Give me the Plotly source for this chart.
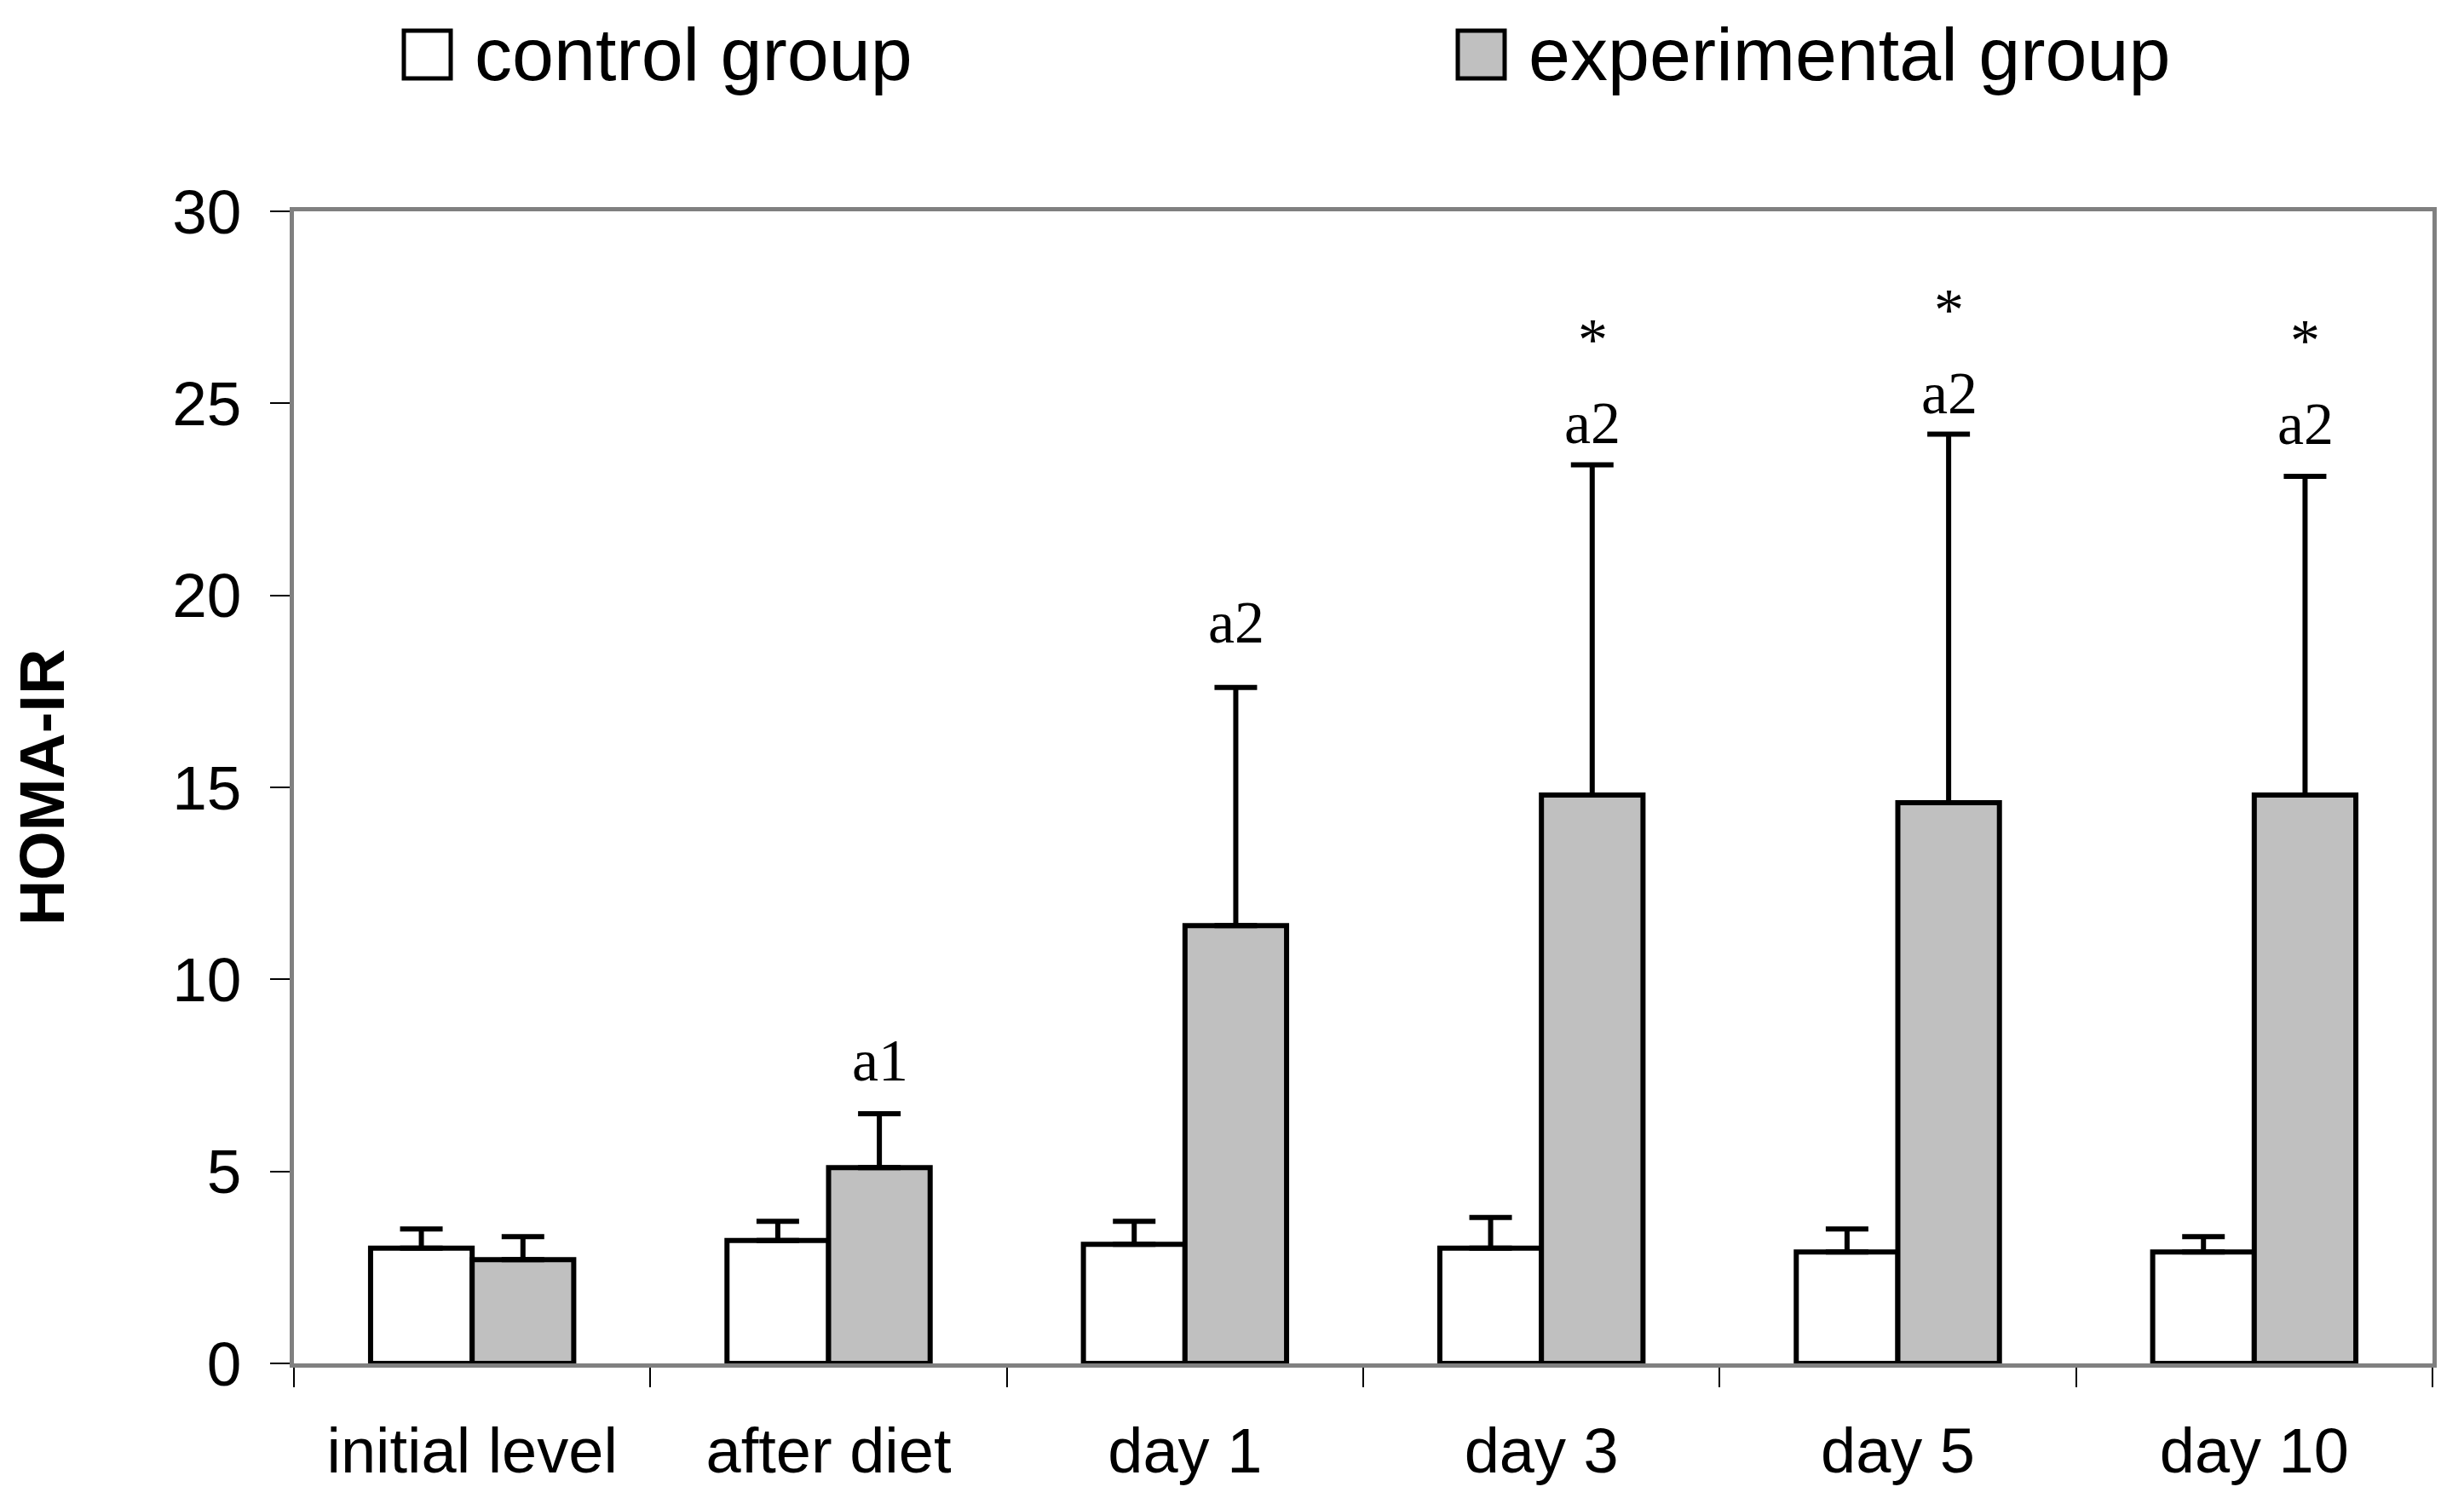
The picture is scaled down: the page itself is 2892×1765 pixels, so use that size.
import plotly.graph_objects as go

categories = ["initial level", "after diet", "day 1", "day 3", "day 5", "day 10"]
control_mean = [3.0, 3.2, 3.1, 3.0, 2.9, 2.9]
control_err = [0.5, 0.5, 0.6, 0.8, 0.6, 0.4]
exp_mean = [2.7, 5.1, 11.4, 14.8, 14.6, 14.8]
exp_err = [0.6, 1.4, 6.2, 8.6, 9.6, 8.3]
sig_labels = ["", "a1", "a2", "a2", "a2", "a2"]
star_labels = ["", "", "", "*", "*", "*"]
y_ticks = [0, 5, 10, 15, 20, 25, 30]

# styling: pixel offsets of the significance labels above the error bar caps
label_yshift = [0, 22, 36, 8, 7, 21]
star_gap = 98

# page has an 8px default body margin, so the figure is 8px smaller
OFF = 8
W, H = 2892 - OFF, 1765 - OFF
ML, MR, MT, MB = 345 - OFF, 37, 248 - OFF, 165
PW = W - ML - MR
PH = H - MT - MB

SANS = "Liberation Sans, Arial, sans-serif"
SERIF = "Liberation Serif, Times New Roman, serif"

fig = go.Figure()
fig.add_trace(go.Bar(
    x=categories, y=control_mean, name="control group",
    marker=dict(color="white", line=dict(color="black", width=6)),
    error_y=dict(type="data", symmetric=False, array=control_err,
                 arrayminus=[0] * len(control_err), color="black",
                 thickness=6, width=25),
))
fig.add_trace(go.Bar(
    x=categories, y=exp_mean, name="experimental group",
    marker=dict(color="#C0C0C0", line=dict(color="black", width=6)),
    error_y=dict(type="data", symmetric=False, array=exp_err,
                 arrayminus=[0] * len(exp_err), color="black",
                 thickness=6, width=25),
))

annotations = []
half_bar = 60
for c, m, e, lab, st, ys in zip(categories, exp_mean, exp_err, sig_labels, star_labels, label_yshift):
    top = m + e
    if lab:
        annotations.append(dict(x=c, y=top, xref="x", yref="y", text=lab,
                                showarrow=False, xanchor="center", yanchor="bottom",
                                xshift=half_bar, yshift=ys,
                                font=dict(family=SERIF, size=70, color="black")))
    if st:
        annotations.append(dict(x=c, y=top, xref="x", yref="y", text=st,
                                showarrow=False, xanchor="center", yanchor="bottom",
                                xshift=half_bar, yshift=ys + star_gap,
                                font=dict(family=SERIF, size=70, color="black")))

def px2x(px):
    return (px - OFF - ML) / PW

def py2y(py):
    return (H - MB - (py - OFF)) / PH

shapes = []
legend_items = [("control group", "white", 472, 555), ("experimental group", "#C0C0C0", 1709, 1792)]
for name, col, bx, tx in legend_items:
    shapes.append(dict(type="rect", xref="paper", yref="paper",
                       x0=px2x(bx + 2), x1=px2x(bx + 57), y0=py2y(92), y1=py2y(36),
                       fillcolor=col, line=dict(color="black", width=5)))
    annotations.append(dict(x=px2x(tx), y=py2y(64), xref="paper", yref="paper",
                            text=name, showarrow=False, xanchor="left", yanchor="middle",
                            font=dict(family=SANS, size=88, color="black")))

fig.update_layout(
    width=W, height=H,
    margin=dict(l=ML, r=MR, t=MT, b=MB, autoexpand=False),
    paper_bgcolor="white", plot_bgcolor="white",
    barmode="group", bargap=0.43, bargroupgap=0,
    showlegend=False,
    annotations=annotations, shapes=shapes,
    font=dict(family=SANS, color="black"),
)
fig.update_xaxes(
    type="category", range=[-0.5, 5.5], tickson="boundaries",
    ticks="outside", ticklen=23, tickwidth=2, tickcolor="black",
    showline=True, linecolor="#808080", linewidth=5, mirror=True,
    showgrid=False, zeroline=False, layer="below traces",
    tickfont=dict(family=SANS, size=74, color="black"),
    ticklabelstandoff=34,
)
fig.update_yaxes(
    range=[0, 30], tickvals=y_ticks, ticktext=[str(v) for v in y_ticks],
    ticks="outside", ticklen=23, tickwidth=2, tickcolor="black",
    showline=True, linecolor="#808080", linewidth=5, mirror=True,
    showgrid=False, zeroline=False, layer="below traces",
    tickfont=dict(family=SANS, size=73, color="black"),
    ticklabelstandoff=19,
    title=dict(text="<b>HOMA-IR</b>", standoff=120,
               font=dict(family=SANS, size=74, color="black")),
)

fig.write_html("out.html")
